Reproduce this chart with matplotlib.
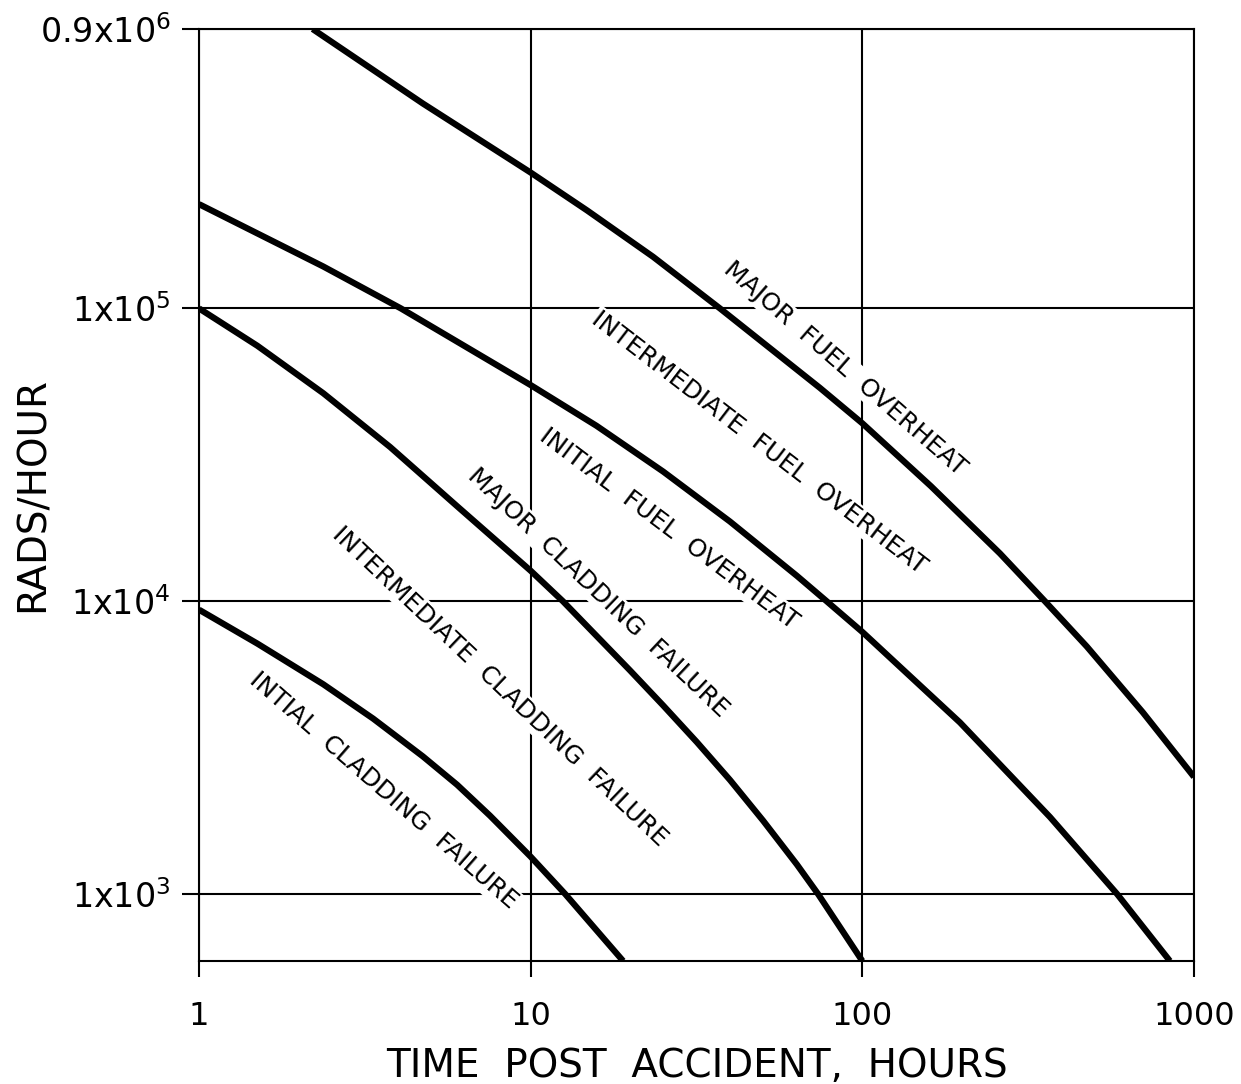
import matplotlib
matplotlib.use("Agg")
import matplotlib.pyplot as plt
from matplotlib.ticker import FixedLocator, FixedFormatter, NullLocator

# Dose-rate boundary curves (hours after accident, rads/hour)
hours_1 = [2.2, 4.73, 10, 14.8, 23.4, 37.2, 74.5, 100, 161, 260, 355, 475, 701, 1000]
rads_1 = [9.0e5, 5.01e5, 2.91e5, 2.16e5, 1.50e5, 1.0e5, 5.35e4, 4.05e4,
          2.47e4, 1.455e4, 1.0e4, 7.0e3, 4.17e3, 2.51e3]

hours_2 = [1, 2.37, 4.06, 10, 15.8, 25.1, 39.9, 63.5, 78, 100, 197, 368, 586, 846]
rads_2 = [2.27e5, 1.39e5, 1.0e5, 5.47e4, 3.97e4, 2.77e4, 1.87e4, 1.22e4,
          1.0e4, 7.85e3, 3.85e3, 1.83e3, 1.0e3, 590]

hours_3 = [1, 1.5, 2.37, 3.77, 6.0, 10, 12.5, 19.9, 25.1, 31.7, 39.9, 50.2,
           63.5, 73.5, 100]
rads_3 = [1.0e5, 7.45e4, 5.13e4, 3.36e4, 2.11e4, 1.27e4, 1.0e4, 5.81e3,
          4.40e3, 3.30e3, 2.45e3, 1.78e3, 1.26e3, 1.0e3, 590]

hours_4 = [1, 1.5, 2.37, 3.35, 4.73, 6.0, 7.54, 10, 12.7, 19.0]
rads_4 = [9.35e3, 7.16e3, 5.20e3, 3.97e3, 2.95e3, 2.36e3, 1.85e3, 1.34e3,
          1.0e3, 590]

# Region labels written along the curves
label_texts = ["MAJOR  FUEL  OVERHEAT",
               "INTERMEDIATE  FUEL  OVERHEAT",
               "INITIAL  FUEL  OVERHEAT",
               "MAJOR  CLADDING  FAILURE",
               "INTERMEDIATE  CLADDING  FAILURE",
               "INTIAL  CLADDING  FAILURE"]
label_hours = [88.6, 48.8, 26.1, 16.0, 8.08, 3.59]
label_rads = [6.24e4, 3.47e4, 1.77e4, 1.07e4, 5.12e3, 2.25e3]
label_angles = [-41, -37.5, -37, -43.5, -43.5, -41]

# Axis ticks
x_ticks = [1, 10, 100, 1000]
x_tick_labels = ["1", "10", "100", "1000"]
y_ticks = [1e3, 1e4, 1e5, 9e5]
y_tick_labels = ["1x10$^{3}$", "1x10$^{4}$", "1x10$^{5}$", "0.9x10$^{6}$"]
y_min, y_max = 590, 9e5

plt.rcParams["font.family"] = ["DejaVu Sans"]
plt.rcParams["mathtext.fontset"] = "dejavusans"

W, H = 1241, 1084
fig = plt.figure(figsize=(W / 100, H / 100), dpi=100)
left, right, top, bottom = 199, 1194, 29, 961
ax = fig.add_axes([left / W, 1 - bottom / H, (right - left) / W, (bottom - top) / H])

ax.set_xscale("log")
ax.set_yscale("log")
ax.set_xlim(1, 1000)
ax.set_ylim(y_min, y_max)

grid_lw = 1.5
ax.xaxis.set_major_locator(FixedLocator(x_ticks))
ax.xaxis.set_major_formatter(FixedFormatter(x_tick_labels))
ax.xaxis.set_minor_locator(NullLocator())
ax.yaxis.set_major_locator(FixedLocator(y_ticks))
ax.yaxis.set_major_formatter(FixedFormatter(y_tick_labels))
ax.yaxis.set_minor_locator(NullLocator())

ax.grid(True, which="major", color="black", linewidth=grid_lw, zorder=1)
ax.set_axisbelow(True)
for sp in ax.spines.values():
    sp.set_linewidth(grid_lw)
    sp.set_color("black")

ax.tick_params(axis="x", direction="out", length=11.5, width=grid_lw,
               pad=17, labelsize=23)
ax.tick_params(axis="y", direction="out", length=12, width=grid_lw,
               pad=8.5, labelsize=24)

curve_kw = dict(color="black", linewidth=4.5, solid_capstyle="butt",
                solid_joinstyle="round", zorder=4)
for hx, ry in [(hours_1, rads_1), (hours_2, rads_2),
               (hours_3, rads_3), (hours_4, rads_4)]:
    ax.plot(hx, ry, **curve_kw)

for txt, hx, ry, ang in zip(label_texts, label_hours, label_rads, label_angles):
    ax.text(hx, ry, txt, rotation=ang, rotation_mode="anchor",
            ha="center", va="center", fontsize=18, zorder=3,
            bbox=dict(facecolor="white", edgecolor="none", pad=1.0))

fig.text(697 / W, 1 - 1077 / H, "TIME  POST  ACCIDENT,  HOURS",
         ha="center", va="baseline", fontsize=28)
fig.text(33 / W, 1 - 495 / H, "RADS/HOUR", rotation=90,
         ha="center", va="center", fontsize=28)

fig.savefig("out.png", dpi=100, facecolor="white")
